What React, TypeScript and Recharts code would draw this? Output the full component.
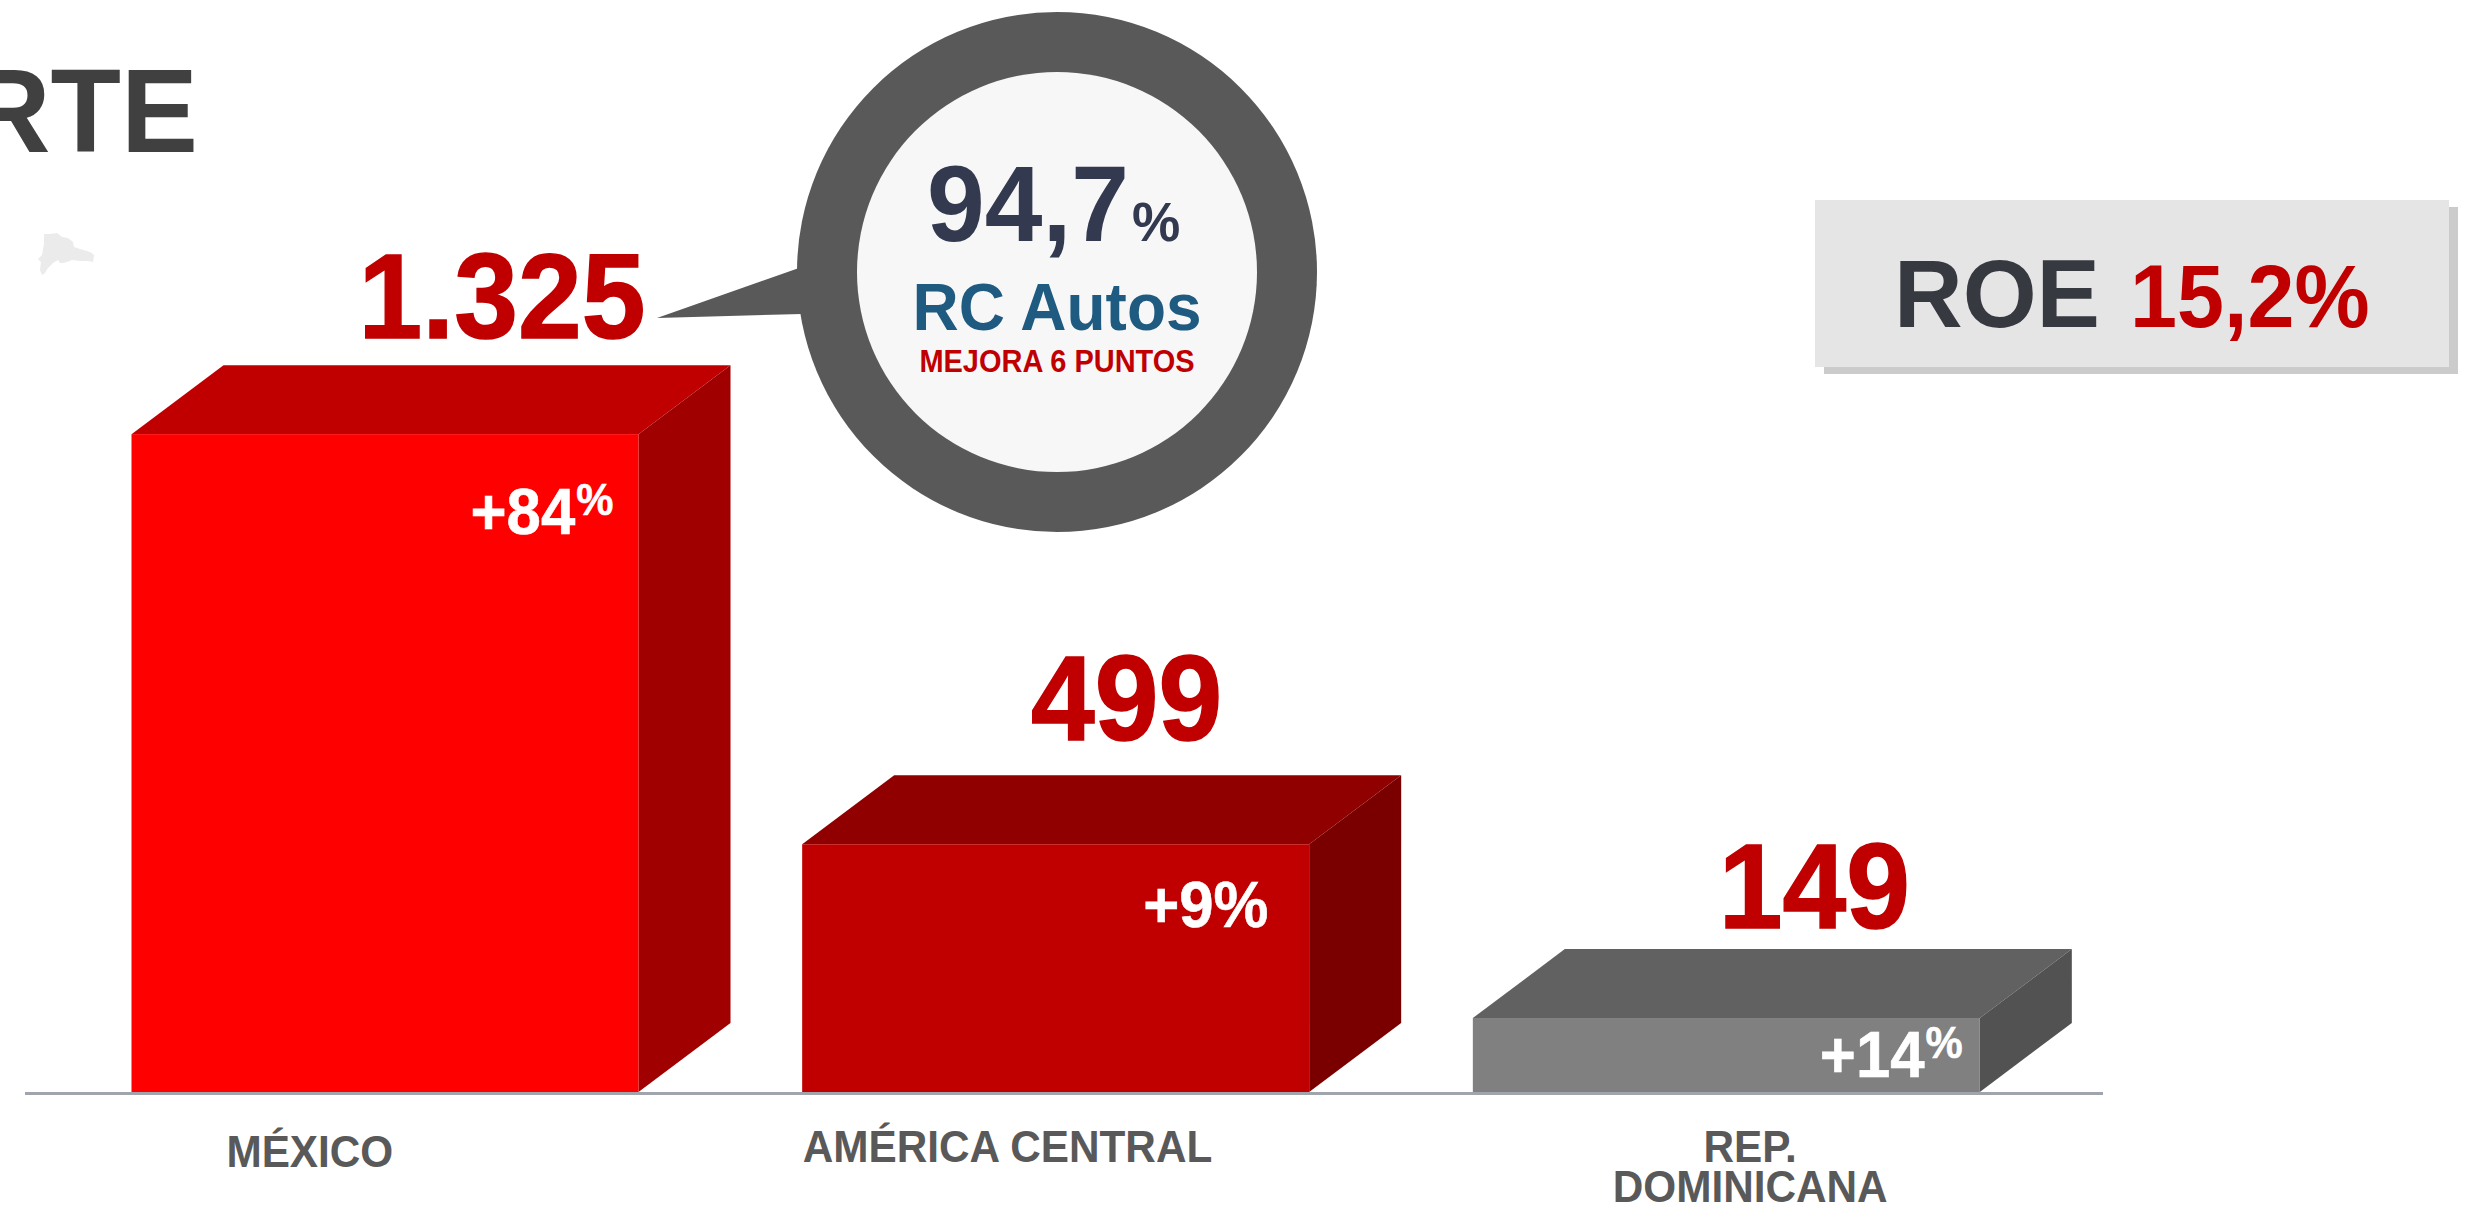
import { BarChart, Bar, XAxis, YAxis, LabelList } from 'recharts';

const categories = ['MÉXICO', 'AMÉRICA CENTRAL', 'REP.\nDOMINICANA'];
const primas = [1325, 499, 149];
const growth = ['84', '9', '14'];

const chartData = categories.map((region, i) => ({ region, primas: primas[i], growth: growth[i] }));

const FONT = '"Liberation Sans", Arial, sans-serif';
const RED = '#C00000';

// front / top / side of each box
const faces = [
  ['#FF0000', '#C00000', '#A00000'],
  ['#C00000', '#900000', '#7A0000'],
  ['#808080', '#616161', '#525252'],
];
const DEPTH_X = 92;
const DEPTH_Y = 69;

// hand placed like the slide, relative to the box
const valueShift = [117, 71, 88];
const valueLift = [96, 104, 90];
const growthX = [339, 341, 347];
const growthDrop = [100, 83, 59];
const tickShift = [-75, -48, 24];
const tickBaseline = [1167, 1162, 1162];

const mapShape =
  '44,234 50,234 57,233 62,237 68,238 73,242 74,247 80,249 90,252 94,255 93,262 88,261 80,261 72,260 67,262 63,263 60,263 58,260 53,263 48,268 45,273 42,275 40,270 41,262 38,259 42,255 43,250 44,243';

// the slide font is a touch narrower and taller than Liberation Sans Bold
function Squeezed({ x, y, squeeze = 0.92, children, ...rest }: any) {
  return (
    <text transform={`translate(${x},${y}) scale(${squeeze},1)`} fontFamily={FONT} fontWeight={700} {...rest}>
      {children}
    </text>
  );
}

function Box(props: any) {
  const { x, y, width, height, index } = props;
  const [front, top, side] = faces[index];
  const r = x + width;
  const b = y + height;
  return (
    <g>
      <polygon points={`${x},${y} ${x + DEPTH_X},${y - DEPTH_Y} ${r + DEPTH_X},${y - DEPTH_Y} ${r},${y}`} fill={top} />
      <polygon points={`${r},${y} ${r + DEPTH_X},${y - DEPTH_Y} ${r + DEPTH_X},${b - DEPTH_Y} ${r},${b}`} fill={side} />
      <rect x={x} y={y} width={width} height={height} fill={front} />
    </g>
  );
}

function ValueLabel(props: any) {
  const { x, y, width, value, index } = props;
  const text = String(value).replace(/\B(?=(\d{3})+$)/g, '.');
  return (
    <Squeezed x={x + width / 2 + valueShift[index]} y={y - valueLift[index]} squeeze={0.955} textAnchor="middle" fontSize={120} fill={RED} stroke={RED} strokeWidth={1.5}>
      {text}
    </Squeezed>
  );
}

function GrowthLabel(props: any) {
  const { x, y, value, index } = props;
  const small = index !== 1;
  return (
    <Squeezed x={x + growthX[index]} y={y + growthDrop[index]} squeeze={0.95} fontSize={65} fill="#FFFFFF" stroke="#FFFFFF" strokeWidth={0.6}>
      +{value}
      {small ? (
        <tspan fontSize={44} dy={-19} dx={1}>%</tspan>
      ) : (
        <tspan>%</tspan>
      )}
    </Squeezed>
  );
}

function RegionTick(props: any) {
  const { x, payload, index } = props;
  const lines = String(payload.value).split('\n');
  return (
    <g>
      {lines.map((line, i) => (
        <Squeezed key={line} x={x + tickShift[index]} y={tickBaseline[index] + i * 40} squeeze={0.94} textAnchor="middle" fontSize={45} fill="#595959">
          {line}
        </Squeezed>
      ))}
    </g>
  );
}

export default function App() {
  return (
    <div style={{ position: 'absolute', left: 0, top: 0, width: 2466, height: 1211, overflow: 'hidden', background: '#fff' }}>
      <BarChart width={2466} height={1211} data={chartData} margin={{ top: 99, right: 363, bottom: 0, left: 25 }} barSize={507}>
        <YAxis hide domain={[0, 2000]} />
        <XAxis
          dataKey="region"
          height={119}
          interval={0}
          padding={{ left: 24.5, right: 41.5 }}
          tickLine={false}
          axisLine={{ stroke: '#A0A4AD', strokeWidth: 3, transform: 'translate(0,1.5)' }}
          tick={<RegionTick />}
        />
        <Bar dataKey="primas" shape={<Box />} isAnimationActive={false}>
          <LabelList dataKey="primas" content={<ValueLabel />} />
          <LabelList dataKey="growth" content={<GrowthLabel />} />
        </Bar>

        {/* title, map and the callouts around the plot */}
        <Squeezed x={198} y={152} squeeze={0.97} textAnchor="end" fontSize={119} fill="#404040">RTE</Squeezed>
        <polygon points={mapShape} fill="#EBEBEB" />

        <polygon points="657,318 799,268 802,314" fill="#595959" />
        <circle cx={1057} cy={272} r={260} fill="#595959" />
        <circle cx={1057} cy={272} r={200} fill="#F7F7F7" />
        <Squeezed x={927} y={241} squeeze={0.97} fontSize={107} fill="#333A50">
          94,7<tspan fontSize={56} dx={3}>%</tspan>
        </Squeezed>
        <Squeezed x={1057} y={330} squeeze={0.97} textAnchor="middle" fontSize={66} fill="#1F5A80">RC Autos</Squeezed>
        <Squeezed x={1057} y={372} squeeze={0.95} textAnchor="middle" fontSize={30.5} fill={RED}>MEJORA 6 PUNTOS</Squeezed>

        <rect x={1824} y={207} width={634} height={167} fill="#CBCBCB" />
        <rect x={1815} y={200} width={634} height={167} fill="#E5E5E5" />
        <Squeezed x={1894} y={327} squeeze={0.98} fontSize={97} fill="#363940">ROE</Squeezed>
        <Squeezed x={2130} y={327} squeeze={0.95} fontSize={89} fill={RED}>15,2%</Squeezed>
      </BarChart>
    </div>
  );
}
